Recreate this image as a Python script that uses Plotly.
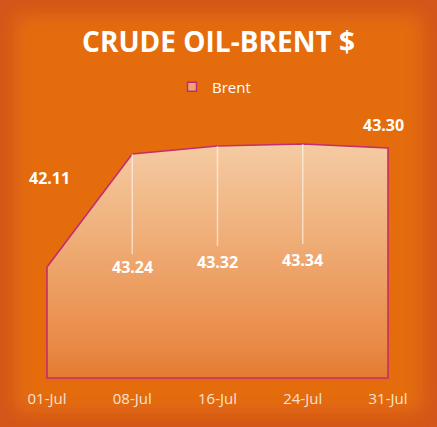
import base64
import plotly.graph_objects as go

dates = ["01-Jul", "08-Jul", "16-Jul", "24-Jul", "31-Jul"]
brent = [42.11, 43.24, 43.32, 43.34, 43.30]
label_text = ["42.11", "43.24", "43.32", "43.34", "43.30"]
y_base = 41.0

W, H = 437, 427
L, R, T, B = 40, 42, 100, 42
PW, PH = W - L - R, H - T - B

# background vignette as svg image
svg = f'''<svg xmlns="http://www.w3.org/2000/svg" width="{W}" height="{H}" viewBox="0 0 {W} {H}">
<defs><filter id="b" x="-20%" y="-20%" width="140%" height="140%"><feGaussianBlur stdDeviation="9"/></filter></defs>
<rect x="0" y="0" width="{W}" height="{H}" fill="#D3561A"/>
<rect x="14" y="14" width="{W-28}" height="{H-28}" rx="10" fill="#E46C0B" filter="url(#b)"/>
</svg>'''
src = "data:image/svg+xml;base64," + base64.b64encode(svg.encode()).decode()

fig = go.Figure()

# closed area polygon
px = dates + [dates[-1], dates[0], dates[0]]
py = brent + [y_base, y_base, brent[0]]
fig.add_trace(go.Scatter(
    x=px, y=py, mode="lines", name="Brent", showlegend=False,
    fill="toself",
    fillgradient=dict(type="vertical",
                      colorscale=[[0, "#E47A30"], [0.15, "#E98B48"], [0.6, "#EFAE78"], [1, "#F5CBA3"]]),
    line=dict(color="#C22E6E", width=1.6),
    hoverinfo="skip",
))

# legend swatch
fig.add_trace(go.Scatter(
    x=[None], y=[None], mode="markers", name="Brent",
    marker=dict(symbol="square", size=9, color="#EFA274",
                line=dict(color="#C22E6E", width=1.5)),
))

# white highlight drop lines
dx, dy = [], []
for d, v in zip(dates[1:4], brent[1:4]):
    dx += [d, d, None]
    dy += [v, v - 1.0, None]
fig.add_trace(go.Scatter(x=dx, y=dy, mode="lines", showlegend=False,
                         line=dict(color="rgba(255,255,255,0.55)", width=1.5),
                         hoverinfo="skip"))

shifts = [(2, 89), (0, -113), (0, -116), (0, -116), (-5, 23)]
for d, v, t, (xs, ys) in zip(dates, brent, label_text, shifts):
    fig.add_annotation(x=d, y=v, text=f"<b>{t}</b>", showarrow=False,
                       xshift=xs, yshift=ys,
                       font=dict(family="Open Sans", size=16, color="white"))

xr0 = -7 / 85.25
xr1 = 4 + 7 / 85.25
ybot = y_base - (PH + T - 378) / 100.0
ytop = y_base + (378 - T) / 100.0

fig.update_layout(
    width=W, height=H,
    margin=dict(l=L, r=R, t=T, b=B, autoexpand=False),
    paper_bgcolor="#E46C0B",
    plot_bgcolor="rgba(0,0,0,0)",
    images=[dict(source=src, xref="paper", yref="paper",
                 x=-L / PW, y=1 + T / PH, sizex=W / PW, sizey=H / PH,
                 xanchor="left", yanchor="top", sizing="stretch", layer="below")],
    title=dict(text="<b>CRUDE OIL-BRENT $</b>", x=0.5, xanchor="center",
               xref="container", yref="container", y=1 - 42 / H, yanchor="middle",
               font=dict(family="Open Sans", size=28, color="white")),
    legend=dict(orientation="h", xref="container", yref="container",
                x=172 / W, xanchor="left", y=1 - 87 / H, yanchor="middle",
                font=dict(family="Open Sans", size=15, color="white"),
                bgcolor="rgba(0,0,0,0)"),
    xaxis=dict(type="category", range=[xr0, xr1], showgrid=False, zeroline=False,
               showline=False, ticks="", ticklabelstandoff=3,
               tickfont=dict(family="Open Sans", size=15, color="#F8E2D2"),
               fixedrange=True),
    yaxis=dict(range=[ybot, ytop], showgrid=False, zeroline=False, showline=False,
               showticklabels=False, fixedrange=True),
    showlegend=True,
)

fig.write_html("out.html", config={"displayModeBar": False},
               post_script="document.body.style.margin='0px';")
